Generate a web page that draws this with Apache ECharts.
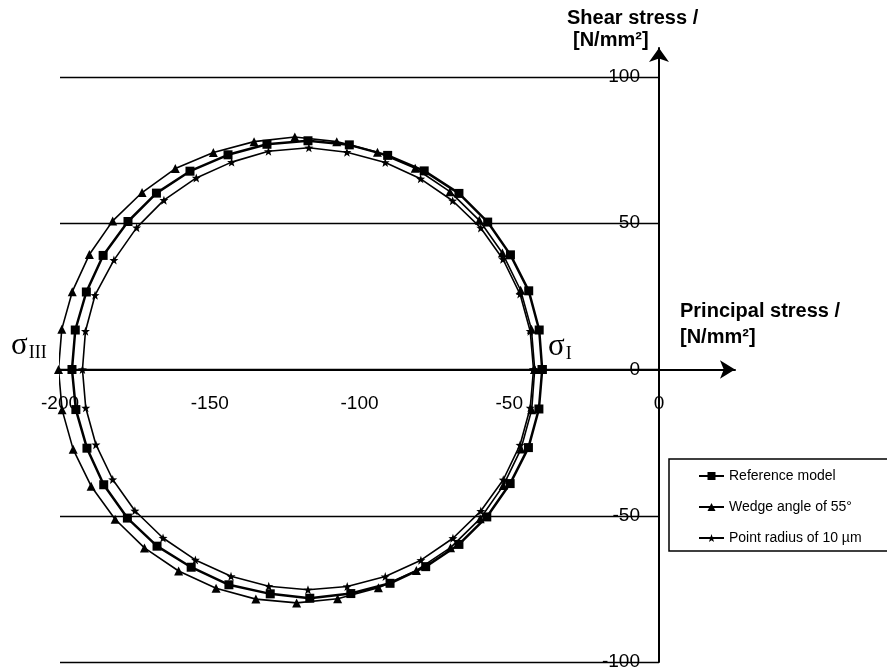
<!DOCTYPE html>
<html>
<head>
<meta charset="utf-8">
<script src="https://cdn.jsdelivr.net/npm/echarts@6/dist/echarts.min.js"></script>
<style>
html,body{margin:0;padding:0;background:#fff;}
#c{width:887px;height:672px;}
</style>
</head>
<body>
<div id="c"></div>
<script>
// Principal stress (x) and shear stress (y), points every ~10 degrees around each Mohr circle
const refX = [-39.0,-40.0,-43.5,-49.6,-57.2,-66.8,-78.4,-90.6,-103.4,-117.2,-130.9,-143.9,-156.6,-167.8,-177.3,-185.6,-191.2,-194.9,-196.0,-194.7,-191.0,-185.4,-177.5,-167.6,-156.2,-143.6,-129.8,-116.6,-102.9,-89.8,-77.9,-66.8,-57.5,-49.7,-43.6,-40.1,-39.0];
const refY = [0,13.5,26.9,39.2,50.4,60.2,67.9,73.2,76.8,78.2,77.0,73.4,67.8,60.3,50.6,39.0,26.5,13.5,0,-13.7,-26.9,-39.4,-50.8,-60.4,-67.6,-73.6,-76.7,-78.2,-76.6,-73.1,-67.4,-59.8,-50.4,-39.0,-26.7,-13.5,0];

const wedgeX = [-41.5,-42.6,-46.2,-52.3,-60.0,-69.8,-81.4,-94.0,-107.6,-121.6,-135.2,-148.8,-161.5,-172.6,-182.4,-190.2,-195.9,-199.4,-200.5,-199.3,-195.6,-189.6,-181.6,-171.8,-160.4,-147.9,-134.6,-121.0,-107.3,-93.7,-81.0,-69.6,-59.7,-52.0,-46.1,-42.5,-41.5];
const wedgeY = [0,13.8,27.1,39.8,51.0,60.8,68.8,74.3,77.9,79.5,77.9,74.2,68.7,60.5,50.8,39.3,26.6,13.8,0,-13.8,-27.3,-39.9,-51.2,-61.0,-68.9,-74.8,-78.5,-79.8,-78.4,-74.6,-68.7,-60.9,-51.0,-39.7,-27.2,-13.8,0];

const pointX = [-41.9,-43.0,-46.4,-52.1,-59.5,-68.9,-79.6,-91.4,-104.2,-116.9,-130.4,-142.7,-154.5,-165.3,-174.4,-182.0,-188.3,-191.5,-192.5,-191.4,-188.0,-182.4,-175.0,-165.6,-154.8,-142.9,-130.3,-117.2,-104.1,-91.4,-79.5,-68.8,-59.5,-52.0,-46.4,-43.0,-41.9];
const pointY = [0,13.1,25.8,37.7,48.4,57.7,65.2,70.8,74.3,75.8,74.6,70.9,65.5,57.9,48.5,37.4,25.4,13.1,0,-13.1,-25.7,-37.6,-48.3,-57.6,-65.1,-70.7,-74.1,-75.3,-74.2,-70.8,-65.2,-57.7,-48.4,-37.7,-25.8,-13.1,0];

const seriesNames = ['Reference model', 'Wedge angle of 55°', 'Point radius of 10 µm'];
const xTicks = [-200, -150, -100, -50, 0];
const yTicks = [-100, -50, 0, 50, 100];

function pairs(xs, ys) { return xs.map((x, i) => [x, ys[i]]); }

const starPath = 'path://M0,-10 L2.4,-3.3 L9.5,-3.1 L3.9,1.3 L5.9,8.1 L0,4.1 L-5.9,8.1 L-3.9,1.3 L-9.5,-3.1 L-2.4,-3.3 Z';
const font = 'Liberation Sans, Arial, sans-serif';
const serif = 'Liberation Serif, Times New Roman, serif';

const chart = echarts.init(document.getElementById('c'));
chart.setOption({
  animation: false,
  backgroundColor: '#fff',
  grid: [
    { left: 60, top: 77, width: 599, height: 585, outerBoundsMode: 'none', containLabel: false },
    { left: 60, top: 48, width: 675, height: 614, outerBoundsMode: 'none', containLabel: false }
  ],
  xAxis: [
    {
      gridIndex: 0, type: 'value', min: xTicks[0], max: xTicks[xTicks.length - 1], interval: 50,
      position: 'bottom', offset: -293,
      axisLine: { show: false, onZero: false },
      axisTick: { show: false }, splitLine: { show: false },
      axisLabel: { margin: 25, color: '#000', fontSize: 19, fontFamily: font }
    },
    {
      gridIndex: 1, type: 'value', min: -200, max: 25.38,
      axisLine: { show: true, onZero: true, symbol: ['none', 'arrow'], symbolSize: [14, 15], lineStyle: { color: '#000', width: 2 } },
      axisTick: { show: false }, splitLine: { show: false }, axisLabel: { show: false }
    }
  ],
  yAxis: [
    {
      gridIndex: 0, type: 'value', position: 'right', min: yTicks[0], max: yTicks[yTicks.length - 1], interval: 50,
      axisLine: { show: false, onZero: false }, axisTick: { show: false },
      splitLine: { show: true, lineStyle: { color: '#000', width: 1.3 } },
      axisLabel: { inside: true, margin: 19, color: '#000', fontSize: 19, fontFamily: font, padding: [5, 0, 0, 0] }
    },
    {
      gridIndex: 1, type: 'value', min: -100, max: 109.9,
      axisLine: { show: true, onZero: true, symbol: ['none', 'arrow'], symbolSize: [15, 14], lineStyle: { color: '#000', width: 2 } },
      axisTick: { show: false }, splitLine: { show: false }, axisLabel: { show: false }
    }
  ],
  legend: {
    orient: 'vertical', left: 669, top: 459,
    borderColor: '#000', borderWidth: 1.5, padding: [10, 60, 6, 29],
    itemWidth: 25, itemHeight: 10, itemGap: 17,
    textStyle: { color: '#000', fontSize: 14, fontFamily: font },
    data: seriesNames
  },
  series: [
    {
      name: seriesNames[0], type: 'line', clip: false, data: pairs(refX, refY),
      symbol: 'rect', symbolSize: 9, showAllSymbol: true,
      itemStyle: { color: '#000' }, lineStyle: { color: '#000', width: 2.5 }, z: 5
    },
    {
      name: seriesNames[1], type: 'line', clip: false, data: pairs(wedgeX, wedgeY),
      symbol: 'triangle', symbolSize: 9, showAllSymbol: true,
      itemStyle: { color: '#000' }, lineStyle: { color: '#000', width: 1.6 }, z: 4
    },
    {
      name: seriesNames[2], type: 'line', clip: false, data: pairs(pointX, pointY),
      symbol: starPath, symbolSize: 9, showAllSymbol: true,
      itemStyle: { color: '#000' }, lineStyle: { color: '#000', width: 1.6 }, z: 3
    }
  ],
  graphic: [
    { type: 'text', left: 567, top: 8, style: { text: 'Shear stress /', font: 'bold 20px ' + font, fill: '#000' } },
    { type: 'text', left: 573, top: 30, style: { text: '[N/mm²]', font: 'bold 20px ' + font, fill: '#000' } },
    { type: 'text', left: 680, top: 301, style: { text: 'Principal stress /', font: 'bold 20px ' + font, fill: '#000' } },
    { type: 'text', left: 680, top: 327, style: { text: '[N/mm²]', font: 'bold 20px ' + font, fill: '#000' } },
    { type: 'text', left: 11, top: 330, style: {
        text: '{s|σ}{b|III}', fill: '#000',
        rich: { s: { fontSize: 31, fontFamily: serif, fill: '#000' },
                b: { fontSize: 18, fontFamily: serif, fill: '#000', padding: [16, 0, 0, 1] } } } },
    { type: 'text', left: 548, top: 331, style: {
        text: '{s|σ}{b|I}', fill: '#000',
        rich: { s: { fontSize: 31, fontFamily: serif, fill: '#000' },
                b: { fontSize: 18, fontFamily: serif, fill: '#000', padding: [16, 0, 0, 1] } } } }
  ]
});
</script>
</body>
</html>
